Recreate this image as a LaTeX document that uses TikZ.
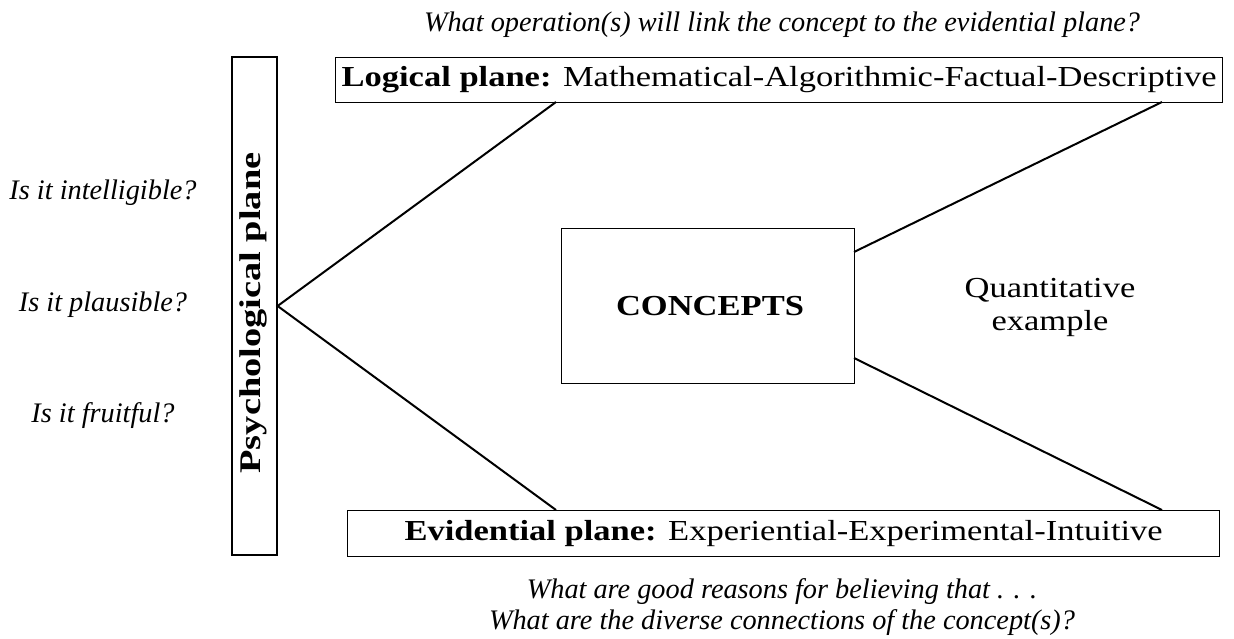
\documentclass[tikz,border=0pt]{standalone}
\usepackage{fontspec}
\setmainfont{Liberation Serif}
\newfontfamily\planefont[FakeStretch=1.19]{Liberation Serif}
\newfontfamily\psyfont[FakeStretch=1.28]{Liberation Serif}
\begin{document}
\begin{tikzpicture}[x=1pt,y=-1pt,
  plane/.style={draw,line width=1.2pt,inner sep=0pt},
  link/.style={line width=2pt},
  question/.style={font=\fontsize{28.3}{31}\selectfont\itshape,inner sep=0pt},
  bigtext/.style={font=\planefont\fontsize{29}{33}\selectfont,inner sep=0pt}]
\useasboundingbox (0,0) rectangle (1234,639);
% frame boxes
\node[plane,minimum width=45pt,minimum height=498pt] (psy) at (254.5,306) {};
\node[plane,minimum width=887pt,minimum height=45pt,anchor=north west] (log) at (335,57) {};
\node[plane,minimum width=872pt,minimum height=46pt,anchor=north west] (evi) at (347,510) {};
\node[plane,minimum width=293pt,minimum height=155pt,anchor=north west] (con) at (561,228) {};
% labels inside the boxes
\node[inner sep=0pt,font=\psyfont\fontsize{30}{34}\selectfont\bfseries,rotate=90] (psyl) at (253,313) {Psychological plane};
\node[bigtext] (logl) at (log.center) {\textbf{Logical plane:} Mathematical-Algorithmic-Factual-Descriptive};
\node[bigtext] (evil) at (evi.center) {\textbf{Evidential plane:} Experiential-Experimental-Intuitive};
\node[bigtext] (conl) at (710,306) {\bfseries CONCEPTS};
% connection points
\coordinate (v) at (psy.east);
\coordinate (lb1) at (556,102);
\coordinate (lb2) at (1162,102);
\coordinate (et1) at (556,510);
\coordinate (et2) at (1162,510);
\coordinate (cr1) at (854,252);
\coordinate (cr2) at (854,358);
\draw[link] (lb1) -- (v) -- (et1);
\draw[link] (lb2) -- (cr1);
\draw[link] (cr2) -- (et2);
% questions
\node[question] (q0) at (782,25) {What operation(s) will link the concept to the evidential plane?};
\node[question] (q1) at (103,193) {Is it intelligible?};
\node[question] (q2) at (103,305) {Is it plausible?};
\node[question] (q3) at (103,416) {Is it fruitful?};
\node[question,align=center] (q4) at (782,607) {What are good reasons for believing that . . .\\What are the diverse connections of the concept(s)?};
\node[bigtext,align=center] (qe) at (1050,307) {Quantitative\\example};
\end{tikzpicture}
\end{document}
